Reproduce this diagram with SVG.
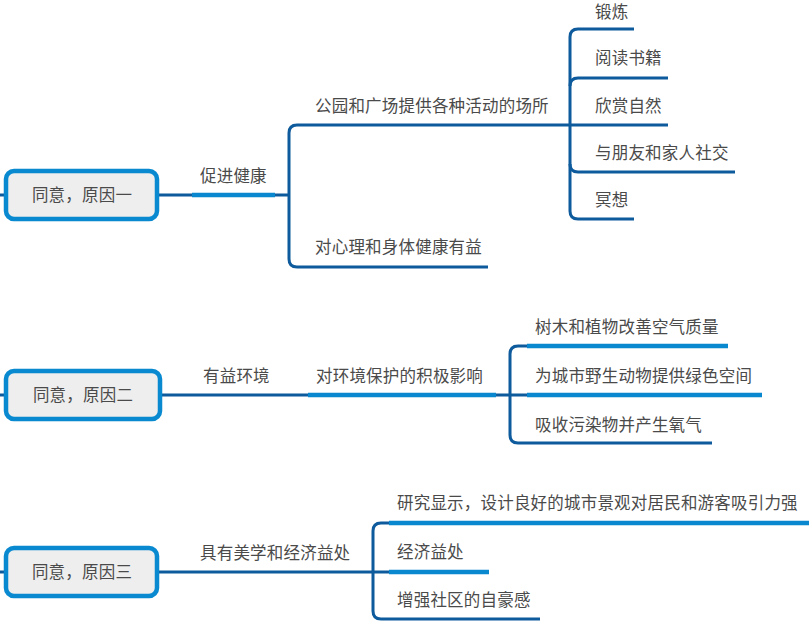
<svg xmlns="http://www.w3.org/2000/svg" width="809" height="627" viewBox="0 0 809 627">
<style>
.t{font-family:"Noto Sans CJK SC","Noto Sans",sans-serif;font-size:16.5px;letter-spacing:0.2px;fill:#4a4a4a}
.box{fill:#eeeeee;stroke:#0889d0;stroke-width:4.5}
.d{fill:none;stroke:#0d5a9c;stroke-width:3;stroke-linecap:butt}
.l{fill:none;stroke:#0a88cf;stroke-width:4.5;stroke-linecap:butt}
</style>
<rect width="809" height="627" fill="#ffffff"/>
<g id="connectors">
<path class="d" d="M0,195 H5"/>
<path class="d" d="M159,195 H289"/>
<path class="l" d="M192,195 H275"/>
<path class="d" d="M297,125 Q289,125 289,133 V259 Q289,267 297,267 H488"/>
<path class="d" d="M297,125 H668"/>
<path class="d" d="M578,29 Q570,29 570,37 V211 Q570,219 578,219 H634"/>
<path class="d" d="M578,29 H634"/>
<path class="d" d="M570,86 Q570,78 578,78 H668"/>
<path class="d" d="M570,164 Q570,172 578,172 H735"/>
<path class="d" d="M0,395 H5"/>
<path class="d" d="M162,395 H527"/>
<path class="l" d="M308,395 H496"/>
<path class="d" d="M527,346 H518 Q510,346 510,354 V435 Q510,443 518,443 H712"/>
<path class="l" d="M527,346 H728"/>
<path class="l" d="M527,395 H762"/>
<path class="d" d="M0,572 H5"/>
<path class="d" d="M158,572 H389"/>
<path class="d" d="M389,523 H381 Q373,523 373,531 V611 Q373,619 381,619 H540"/>
<path class="l" d="M389,523 H809"/>
<path class="l" d="M389,572 H489"/>
</g>
<g id="reason1">
<rect class="box" x="6" y="171" width="151" height="48" rx="8"/>
<text class="t" x="82" y="201" text-anchor="middle">同意，原因一</text>
</g>
<g id="health"><text class="t" x="200" y="182">促进健康</text></g>
<g id="parks"><text class="t" x="315" y="112">公园和广场提供各种活动的场所</text></g>
<g id="mind"><text class="t" x="315" y="253">对心理和身体健康有益</text></g>
<g id="exercise"><text class="t" x="595" y="18">锻炼</text></g>
<g id="reading"><text class="t" x="595" y="64">阅读书籍</text></g>
<g id="nature"><text class="t" x="595" y="112">欣赏自然</text></g>
<g id="social"><text class="t" x="595" y="159">与朋友和家人社交</text></g>
<g id="meditate"><text class="t" x="595" y="206">冥想</text></g>
<g id="reason2">
<rect class="box" x="6" y="371" width="154" height="48" rx="8"/>
<text class="t" x="83" y="401" text-anchor="middle">同意，原因二</text>
</g>
<g id="env"><text class="t" x="203" y="382">有益环境</text></g>
<g id="protect"><text class="t" x="316" y="382">对环境保护的积极影响</text></g>
<g id="air"><text class="t" x="535" y="333">树木和植物改善空气质量</text></g>
<g id="wildlife"><text class="t" x="535" y="382">为城市野生动物提供绿色空间</text></g>
<g id="oxygen"><text class="t" x="535" y="431">吸收污染物并产生氧气</text></g>
<g id="reason3">
<rect class="box" x="6" y="548" width="151" height="48" rx="8"/>
<text class="t" x="82" y="578" text-anchor="middle">同意，原因三</text>
</g>
<g id="aesthetic"><text class="t" x="200" y="559">具有美学和经济益处</text></g>
<g id="study"><text class="t" x="397" y="509">研究显示，设计良好的城市景观对居民和游客吸引力强</text></g>
<g id="economy"><text class="t" x="397" y="558">经济益处</text></g>
<g id="pride"><text class="t" x="397" y="606">增强社区的自豪感</text></g>
</svg>
